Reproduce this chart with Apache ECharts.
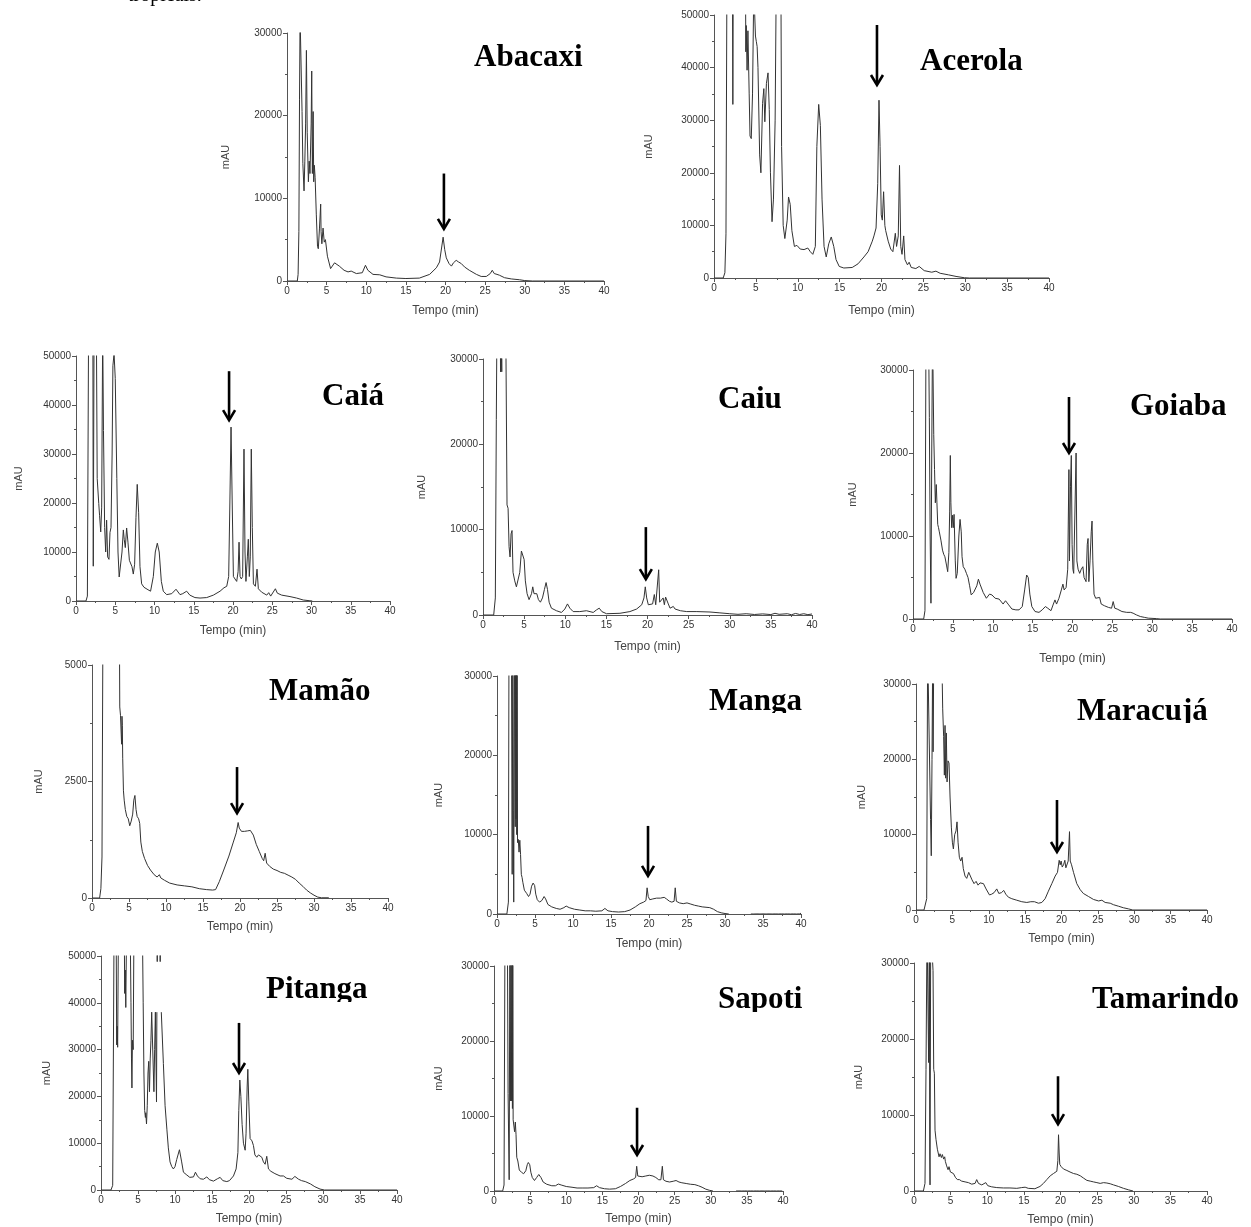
<!DOCTYPE html>
<html>
<head>
<meta charset="utf-8">
<script src="https://cdn.jsdelivr.net/npm/echarts@6/dist/echarts.min.js"></script>
<style>
html,body{margin:0;padding:0;background:#fff;}
#chart{width:1251px;height:1227px;}
</style>
</head>
<body>
<div id="chart"></div>
<script>
// ---------------- DATA ----------------
const fruitNames = ['Abacaxi','Acerola','Caiá','Caiu','Goiaba','Mamão','Manga','Maracujá','Pitanga','Sapoti','Tamarindo'];
const xTickMax = 40, xTickStep = 5;
const yMaxes = [30000,50000,50000,30000,30000,5000,30000,30000,50000,30000,30000];
const ySteps = [10000,10000,10000,10000,10000,2500,10000,10000,10000,10000,10000];
// arrows: time (min), start value, tip value
const arrowTimes = [19.8,19.46,19.5,19.8,19.56,19.6,19.87,19.38,18.65,19.8,19.66];
const arrowFrom  = [13000,48100,46900,10300,26750,2810,11100,14600,35700,11100,15100];
const arrowTo    = [6300,36700,36900,4200,20000,1820,4800,7700,25000,4800,8800];

const abacaxi = [[0,0],[1.3,0],[1.4,800],[1.5,6000],[1.58,22000],[1.65,32000],[1.85,32000],[1.9,20500],[2.0,14200],[2.08,14000],[2.15,10900],[2.25,14500],[2.35,19000],[2.45,27900],[2.55,18000],[2.7,12000],[2.8,14500],[2.9,13000],[3.05,19000],[3.12,25400],[3.2,13000],[3.3,20500],[3.37,12000],[3.45,14000],[3.55,12500],[3.7,8000],[3.85,4200],[3.95,3900],[4.1,6400],[4.25,9300],[4.3,6000],[4.4,4500],[4.55,6400],[4.7,4700],[4.85,5000],[5.1,3000],[5.5,1500],[6.0,2200],[6.6,1800],[7.2,1300],[7.7,1100],[8.1,1200],[8.75,900],[9.5,1000],[9.9,1900],[10.2,1300],[10.85,800],[11.7,750],[12.5,500],[13.8,350],[15.0,300],[16.7,350],[18.0,800],[18.85,1600],[19.25,2300],[19.5,2200],[19.7,5300],[19.9,3800],[20.1,2800],[20.45,2100],[20.75,1800],[21.0,2200],[21.35,2500],[21.65,2300],[22.0,2100],[22.4,1700],[23.0,1300],[23.9,800],[24.5,550],[25.15,550],[25.65,900],[25.9,1300],[26.15,900],[26.5,800],[26.8,700],[27.45,400],[28.3,250],[29.35,150],[30,50],[31,0],[40,0]];

const acerola = [[0,0],[1.1,0],[1.3,1000],[1.43,8400],[1.55,60000],[2.2,60000],[2.25,33000],[2.3,60000],[3.75,60000],[3.8,43000],[3.85,48000],[3.95,39500],[4.05,47000],[4.2,35000],[4.3,27000],[4.45,26500],[4.6,35000],[4.75,55000],[4.85,55000],[4.95,46000],[5.05,45000],[5.15,44000],[5.25,40000],[5.45,23400],[5.6,20000],[5.8,33200],[5.95,36000],[6.07,29700],[6.26,37000],[6.45,39000],[6.6,32000],[6.74,20000],[6.93,10700],[7.1,15000],[7.3,30000],[7.45,60000],[7.98,60000],[8.07,25000],[8.26,10000],[8.46,7500],[8.74,11000],[8.9,15400],[9.1,14000],[9.3,9000],[9.6,6000],[9.9,6200],[10.3,5500],[10.75,5400],[11.2,5700],[11.5,5000],[11.8,4500],[12.1,6000],[12.28,25000],[12.5,33000],[12.7,29000],[12.9,15000],[13.14,6000],[13.4,4000],[13.7,6500],[14.0,7800],[14.3,6000],[14.57,3500],[14.95,2200],[15.5,1900],[16.5,2000],[17.2,2700],[17.9,4000],[18.4,5000],[18.9,7000],[19.1,8000],[19.35,9500],[19.55,18000],[19.7,33800],[19.83,25000],[19.97,12000],[20.1,11000],[20.25,16400],[20.4,10000],[20.5,9000],[20.8,7000],[21.1,5500],[21.36,5000],[21.65,8500],[21.8,6000],[22.0,8000],[22.15,21400],[22.3,6000],[22.45,4500],[22.65,8000],[22.8,3500],[23.1,2500],[23.3,3000],[23.55,2000],[24.1,1800],[24.5,2200],[25.1,1400],[26.0,1100],[26.5,1300],[27.0,900],[28.0,600],[28.9,300],[29.9,50],[30.5,0],[40,0]];

const caia = [[0,0],[1.27,0],[1.45,1000],[1.6,55000],[2.15,55000],[2.2,7100],[2.3,55000],[2.6,55000],[2.7,25000],[2.9,19900],[3.0,17500],[3.15,14100],[3.27,19000],[3.4,55000],[3.5,34800],[3.65,15000],[3.78,10000],[3.9,16500],[4.03,9000],[4.2,8500],[4.33,14000],[4.46,15000],[4.6,30000],[4.7,48000],[4.85,50500],[5.0,45400],[5.2,25000],[5.35,10000],[5.5,4900],[5.7,4500],[5.86,10000],[6.03,14500],[6.15,12500],[6.28,10900],[6.45,14900],[6.62,12000],[6.8,8300],[6.96,8500],[7.13,7000],[7.3,5500],[7.47,7500],[7.64,17000],[7.8,23800],[7.98,18000],[8.15,7000],[8.36,3500],[8.66,2800],[8.9,3000],[9.17,2300],[9.5,2000],[9.85,5000],[10.1,10000],[10.36,11800],[10.6,10000],[10.87,4000],[11.12,2000],[11.55,1300],[12.2,1500],[12.74,2400],[13.25,1300],[13.6,1500],[14.1,2000],[14.5,1200],[15.15,700],[15.8,600],[16.65,700],[17.5,1200],[18.35,2000],[18.85,2700],[19.2,3000],[19.45,5000],[19.6,20000],[19.75,35500],[19.9,20000],[20.05,5000],[20.25,4500],[20.47,4000],[20.65,6000],[20.77,12000],[20.9,5000],[21.06,4500],[21.23,5000],[21.4,31000],[21.53,10000],[21.65,4000],[21.83,9000],[21.95,12600],[22.08,5000],[22.2,9000],[22.33,31000],[22.46,15000],[22.6,3500],[22.85,3000],[23.06,6500],[23.23,2500],[23.65,1800],[24.3,1200],[24.55,1700],[24.8,1000],[25.4,2500],[25.65,1600],[26.2,1200],[27.26,900],[28.1,600],[28.96,200],[29.8,50],[30.1,0]];

const caiu = [[0,0],[1.3,0],[1.5,2000],[1.62,22900],[1.7,35000],[2.1,35000],[2.13,28500],[2.17,35000],[2.25,35000],[2.28,28500],[2.32,35000],[2.76,35000],[2.92,12900],[3.05,12500],[3.17,8000],[3.29,6800],[3.41,9500],[3.53,9900],[3.65,5000],[3.86,4000],[4.06,3300],[4.3,3500],[4.47,5000],[4.67,7500],[4.83,7600],[5.0,6500],[5.15,4000],[5.36,2500],[5.6,1800],[5.9,2500],[6.05,3300],[6.2,2500],[6.37,2600],[6.54,2500],[6.74,1800],[6.98,1500],[7.23,2000],[7.47,3000],[7.67,3800],[7.84,3000],[8.04,1500],[8.32,800],[8.93,500],[9.54,300],[9.95,700],[10.27,1300],[10.56,800],[10.96,400],[11.77,400],[12.58,500],[13.4,300],[13.8,600],[14.13,800],[14.45,400],[15.02,150],[16.65,200],[17.86,400],[18.68,700],[19.3,1200],[19.57,2000],[19.73,3300],[19.9,2000],[20.1,1200],[20.3,1100],[20.62,1300],[20.83,2400],[21.0,1200],[21.2,1300],[21.36,5300],[21.48,1500],[21.72,1400],[21.9,2000],[22.05,1200],[22.2,2100],[22.37,2200],[22.53,1300],[22.74,800],[23.14,1000],[23.35,700],[24.0,500],[24.77,400],[26.0,400],[27.6,350],[28.8,250],[30.0,150],[31.0,80],[32.0,150],[33.0,60],[34.0,130],[35.0,50],[35.5,200],[36.0,80],[37.0,150],[37.5,30],[38.0,180],[38.5,60],[39.0,150],[39.5,40],[40,120]];

const goiaba = [[0,0],[1.34,0],[1.5,1000],[1.63,35000],[1.95,35000],[2.05,24300],[2.15,10000],[2.25,1900],[2.35,20000],[2.45,35000],[2.55,35000],[2.6,22200],[2.7,18000],[2.8,14000],[2.92,16200],[3.0,14000],[3.1,11400],[3.2,11000],[3.3,10500],[3.5,9500],[3.7,8300],[3.85,7800],[4.0,7500],[4.2,6500],[4.35,5700],[4.5,8000],[4.6,13000],[4.68,19700],[4.75,14000],[4.85,11000],[4.95,12500],[5.05,11000],[5.15,12600],[5.3,7000],[5.4,4900],[5.55,5500],[5.75,10000],[5.9,12000],[6.05,10500],[6.15,7500],[6.3,6300],[6.5,6000],[6.7,5500],[6.9,5000],[7.1,4000],[7.3,2900],[7.6,3200],[8.0,4000],[8.2,4800],[8.4,4200],[8.8,3200],[9.2,2500],[9.6,3000],[9.9,2900],[10.3,2500],[10.8,2400],[11.3,1800],[11.6,2200],[11.8,2300],[12.0,1700],[12.4,1200],[12.9,1100],[13.3,1100],[13.7,1500],[14.0,3500],[14.25,5300],[14.45,5000],[14.65,3000],[14.9,1500],[15.3,900],[15.8,800],[16.2,1100],[16.6,1500],[16.9,1300],[17.3,1000],[17.6,1800],[17.8,2300],[18.0,1800],[18.3,2500],[18.6,3500],[18.8,4200],[18.95,3500],[19.2,3800],[19.4,6000],[19.55,18000],[19.62,7000],[19.75,16000],[19.85,19700],[19.95,9000],[20.05,6000],[20.15,5500],[20.3,5500],[20.45,20000],[20.55,7000],[20.7,6000],[20.9,5500],[21.1,6000],[21.3,6300],[21.45,5000],[21.7,4500],[21.85,9000],[21.95,9700],[22.05,4500],[22.2,7000],[22.35,10500],[22.45,11800],[22.55,7000],[22.7,3000],[22.9,2500],[23.1,2300],[23.4,2600],[23.6,1800],[24.0,1600],[24.5,1400],[24.9,1300],[25.1,2100],[25.3,1300],[25.6,1200],[25.8,1300],[26.2,900],[26.8,800],[27.3,800],[27.6,700],[28.0,500],[28.5,300],[29.0,200],[29.5,100],[30.5,50],[31,0],[40,0]];

const mamao = [[0,0],[1.03,0],[1.2,200],[1.35,880],[1.48,6000],[3.7,6000],[3.75,4100],[3.85,3920],[3.95,3500],[4.0,3300],[4.05,3900],[4.1,3700],[4.15,3000],[4.25,2300],[4.35,2100],[4.5,1900],[4.7,1750],[4.9,1700],[5.1,1550],[5.3,1650],[5.5,1800],[5.65,2100],[5.8,2200],[5.95,1900],[6.1,1750],[6.3,1700],[6.45,1600],[6.6,1200],[6.8,1000],[7.1,850],[7.5,700],[7.9,600],[8.4,500],[8.8,450],[9.1,500],[9.3,430],[9.8,380],[10.5,320],[11.5,280],[12.5,260],[13.5,240],[14.5,200],[15.5,180],[16.3,170],[16.7,180],[17.2,350],[17.8,600],[18.5,900],[19.1,1200],[19.5,1400],[19.75,1620],[19.9,1500],[20.2,1430],[20.6,1430],[21.0,1440],[21.4,1450],[21.8,1350],[22.2,1150],[22.6,1000],[23.0,850],[23.2,800],[23.4,960],[23.6,750],[24.0,680],[24.5,620],[25.0,590],[25.5,550],[26.0,530],[26.5,490],[27.0,450],[27.5,400],[28.0,320],[28.5,250],[29.0,170],[29.5,110],[30.0,60],[30.5,20],[31,5],[32,5]];

const manga = [[0,0],[1.3,0],[1.5,1500],[1.58,35000],[1.9,35000],[2.0,5000],[2.08,35000],[2.15,13000],[2.2,1500],[2.3,35000],[2.4,11000],[2.45,35000],[2.5,12000],[2.55,35000],[2.6,10000],[2.65,35000],[2.7,9000],[2.8,9400],[2.9,7800],[3.0,9300],[3.1,7500],[3.2,5000],[3.3,4600],[3.4,4000],[3.6,3000],[3.9,2600],[4.15,2200],[4.35,2500],[4.55,3500],[4.75,3900],[4.95,3600],[5.1,2500],[5.3,1800],[5.6,1500],[5.9,1700],[6.2,2200],[6.4,1900],[6.7,1200],[7.2,900],[7.8,700],[8.3,600],[8.8,800],[9.1,1000],[9.5,800],[10.2,600],[10.9,500],[11.6,400],[12.3,400],[13.0,350],[13.8,400],[14.2,700],[14.6,400],[15.2,300],[16.0,250],[16.8,300],[17.5,500],[18.2,900],[18.8,1300],[19.3,1500],[19.6,1700],[19.75,3300],[19.9,2200],[20.1,1800],[20.5,1900],[21.0,2000],[21.5,2000],[22.0,2100],[22.3,1900],[22.7,1600],[23.0,1500],[23.3,1600],[23.45,3300],[23.6,1600],[24.0,1400],[24.5,1300],[25.0,1400],[25.5,1250],[26.0,1100],[26.5,1000],[27.0,900],[27.5,850],[28.0,800],[28.5,600],[29.0,300],[29.5,150],[30.0,60],[30.5,0],[30.6,'-'],[33.4,0],[33.6,110],[33.8,0],[34.0,120],[34.2,10],[34.4,110],[34.6,0],[34.8,130],[35.0,10],[35.2,120],[35.4,0],[35.6,110],[35.8,10],[36.0,130],[36.2,0],[36.4,120],[36.6,10],[36.8,110],[37.0,0],[37.2,130],[37.4,10],[37.6,120],[37.8,0],[38.0,110],[38.2,10],[38.4,130],[38.6,0],[38.8,120],[39.0,10],[39.2,110],[39.4,0],[39.6,130],[39.8,10],[40,100]];

const maracuja = [[0,0],[1.1,0],[1.47,1500],[1.6,35000],[1.85,35000],[2.0,12000],[2.1,7200],[2.2,20000],[2.3,35000],[2.35,21000],[2.45,35000],[3.53,35000],[3.67,26700],[3.8,23000],[3.9,17900],[3.99,24500],[4.08,17500],[4.17,23500],[4.27,17000],[4.4,19800],[4.54,19500],[4.68,15000],[4.86,11000],[5.0,9000],[5.14,8100],[5.32,10000],[5.5,10500],[5.64,11700],[5.78,9000],[5.96,7000],[6.15,6500],[6.33,7000],[6.5,5500],[6.74,4500],[6.97,4200],[7.25,5000],[7.43,5100],[7.7,4000],[7.98,3500],[8.26,3800],[8.53,3300],[8.8,3600],[9.04,3850],[9.27,3500],[9.63,2800],[10.1,2000],[10.4,2100],[10.73,2300],[11.1,2800],[11.38,2200],[11.74,2300],[12.06,2600],[12.34,2100],[12.7,1700],[13.17,1500],[13.85,1300],[14.54,1100],[15.23,1000],[15.78,1100],[16.0,1300],[16.28,1100],[16.83,900],[17.3,1000],[17.75,1500],[18.2,2500],[18.67,3500],[19.13,4500],[19.45,5000],[19.68,6600],[19.82,6000],[19.95,6500],[20.1,5700],[20.28,6000],[20.46,6600],[20.6,5600],[20.73,5400],[20.92,6500],[21.1,10400],[21.2,6500],[21.38,6000],[21.65,5000],[22.1,3500],[22.57,2700],[23.0,2200],[23.7,1800],[24.4,1400],[25.1,1200],[25.55,1300],[26.0,1000],[26.7,900],[27.15,700],[27.84,500],[28.5,300],[29.2,150],[29.8,0],[40,0]];

const pitanga = [[0,0],[1.35,0],[1.58,1000],[1.76,55000],[2.05,55000],[2.12,31000],[2.18,35000],[2.25,30500],[2.35,55000],[3.15,55000],[3.2,42000],[3.28,47000],[3.35,39000],[3.45,55000],[3.95,55000],[4.05,40000],[4.12,28000],[4.18,21800],[4.25,32000],[4.35,30000],[4.45,55000],[5.6,55000],[5.7,40000],[5.8,25000],[5.9,17000],[6.0,15500],[6.05,16500],[6.15,14100],[6.25,18000],[6.35,25000],[6.45,27500],[6.55,21000],[6.65,28000],[6.75,32000],[6.85,38000],[7.05,38000],[7.15,21000],[7.25,30000],[7.35,38000],[7.45,38000],[7.5,18800],[7.55,38000],[7.56,'-'],[7.58,52000],[7.6,48800],[7.62,52000],[7.63,'-'],[7.98,52000],[8.0,48800],[8.02,52000],[8.03,'-'],[8.15,38000],[8.2,38000],[8.43,27000],[8.66,18000],[8.9,13000],[9.1,9000],[9.33,6000],[9.56,5000],[9.78,4500],[10.0,5000],[10.23,6500],[10.6,8600],[10.9,6000],[11.14,3800],[11.6,3200],[12.0,2700],[12.5,2800],[12.76,3800],[13.03,3000],[13.4,2400],[13.84,2300],[14.3,2800],[14.65,2200],[15.2,1900],[15.73,2400],[16.1,2700],[16.46,2000],[17.0,1800],[17.36,2000],[17.9,3000],[18.26,4500],[18.5,8000],[18.62,17000],[18.76,23500],[18.9,20000],[19.07,14000],[19.25,10000],[19.48,8500],[19.6,12000],[19.75,22000],[19.84,25800],[19.97,19000],[20.15,11000],[20.4,10500],[20.6,9500],[20.8,7500],[21.05,7000],[21.28,7500],[21.5,7200],[21.73,7000],[21.95,6000],[22.18,5500],[22.4,7200],[22.63,4500],[22.95,4000],[23.5,3500],[24.2,3000],[24.66,3000],[25.1,2500],[25.8,2300],[26.2,2900],[26.7,2300],[27.1,2000],[27.6,1800],[28.3,1300],[28.9,700],[29.6,200],[30.2,0],[40,0]];

const sapoti = [[0,0],[1.2,0],[1.39,800],[1.52,35000],[1.85,35000],[1.95,13000],[2.1,1500],[2.2,35000],[2.3,12000],[2.35,35000],[2.45,12000],[2.5,35000],[2.55,11000],[2.6,35000],[2.65,9500],[2.75,9300],[2.85,7900],[2.95,9200],[3.05,7500],[3.15,4500],[3.3,4000],[3.5,2800],[3.8,2500],[4.1,2300],[4.4,2700],[4.6,3500],[4.75,3800],[4.95,3500],[5.1,2500],[5.3,1800],[5.6,1400],[5.9,1800],[6.2,2200],[6.5,1800],[6.8,1200],[7.3,900],[8.0,700],[8.5,700],[8.9,930],[9.3,800],[10.0,600],[10.8,500],[11.5,400],[12.3,400],[13.0,400],[13.8,450],[14.2,700],[14.6,450],[15.3,300],[16.0,250],[16.8,300],[17.5,600],[18.2,1000],[18.8,1400],[19.3,1600],[19.6,1800],[19.75,3300],[19.9,2000],[20.1,1800],[20.5,1900],[21.0,2000],[21.5,2100],[22.0,2000],[22.4,1800],[22.8,1500],[23.1,1500],[23.3,3300],[23.45,1500],[23.8,1300],[24.3,1200],[24.8,1300],[25.2,1400],[25.6,1200],[26.0,1100],[26.6,1000],[27.2,900],[27.8,850],[28.3,700],[28.8,500],[29.3,250],[29.8,100],[30.3,0],[30.4,'-'],[33.5,0],[33.7,120],[33.9,10],[34.1,130],[34.3,0],[34.5,110],[34.7,10],[34.9,130],[35.1,0],[35.3,120],[35.5,10],[35.7,110],[35.9,0],[36.1,130],[36.3,10],[36.5,120],[36.7,0],[36.9,110],[37.1,10],[37.3,130],[37.5,0],[37.7,120],[37.9,10],[38.1,110],[38.3,0],[38.5,130],[38.7,10],[38.9,120],[39.1,0],[39.3,110],[39.5,10],[39.7,130],[39.9,0]];

const tamarindo = [[0,0],[1.28,0],[1.5,1000],[1.64,16000],[1.78,35000],[1.95,35000],[2.0,16900],[2.1,35000],[2.15,5000],[2.19,800],[2.28,35000],[2.46,35000],[2.6,29000],[2.69,16000],[2.78,15500],[2.87,8000],[3.0,6800],[3.19,5500],[3.42,4500],[3.55,4900],[3.74,4400],[3.87,4800],[4.05,4200],[4.19,4500],[4.28,3900],[4.46,3300],[4.65,2800],[4.78,3200],[4.97,2500],[5.2,2600],[5.38,2300],[5.65,1800],[5.92,1500],[6.2,1500],[6.5,1300],[6.97,1200],[7.43,1100],[7.88,900],[8.34,1000],[8.56,1500],[8.8,1000],[9.25,800],[9.5,700],[9.8,1100],[10.07,700],[10.6,550],[11.3,450],[12.2,400],[13.1,400],[14.03,350],[14.7,450],[15.17,500],[15.6,350],[16.5,300],[17.2,600],[17.67,1000],[18.13,1500],[18.6,2000],[19.04,2300],[19.27,2500],[19.5,2600],[19.64,4000],[19.73,7400],[19.82,5000],[19.9,3500],[20.1,3200],[20.4,2900],[20.87,2700],[21.3,2500],[21.78,2300],[22.0,2400],[22.23,2200],[22.4,2300],[22.7,2000],[23.14,1700],[23.6,1400],[24.05,1300],[24.5,1200],[24.97,1100],[25.42,1000],[25.88,1100],[26.33,1050],[26.79,950],[27.24,800],[27.9,600],[28.6,350],[29.3,150],[29.9,0]];

const traces = [abacaxi, acerola, caia, caiu, goiaba, mamao, manga, maracuja, pitanga, sapoti, tamarindo];

// ---------------- LAYOUT ----------------
const gridRects = [
  [287,33,317,248],[714,15,335,263],
  [76,356,314,245],[483,359,329,256],[913,370,319,249],
  [92,665,296,233],[497,676,304,238],[916,684,291,226],
  [101,956,296,234],[494,966,289,225],[914,963,293,229]
];
const yNameGaps = [56,60,52,56,55,48,53,49,49,50,50];
const xNameGaps = [24,27,24,26,34,23,24,23,23,22,23];
const titlePos = [[474,58],[920,62],[322,397],[718,400],[1130,407],[269,692],[709,702],[1077,712],[266,990],[718,1000],[1092,1000]];
const titleCut = [null,null,null,null,null,null,713,723,1002,1012,null];

const sansFont = '"Liberation Sans", Arial, sans-serif';
const serifFont = '"Liberation Serif", "Times New Roman", serif';
const axisColor = '#555';
const labelColor = '#333';
const plainNumber = v => String(v);

const grids = [], xAxes = [], yAxes = [], series = [];
traces.forEach((tr, i) => {
  const r = gridRects[i];
  grids.push({left:r[0], top:r[1], width:r[2], height:r[3], containLabel:false});
  xAxes.push({
    type:'value', gridIndex:i, min:0, max:xTickMax, interval:xTickStep,
    name:'Tempo (min)', nameLocation:'middle', nameGap:xNameGaps[i],
    nameTextStyle:{fontFamily:sansFont, fontSize:12, color:'#444'},
    axisLine:{show:true, onZero:false, lineStyle:{color:axisColor, width:1}},
    axisTick:{show:true, length:4, lineStyle:{color:axisColor}},
    minorTick:{show:true, splitNumber:2, length:2, lineStyle:{color:axisColor}},
    axisLabel:{fontFamily:sansFont, fontSize:10, color:labelColor, margin:5, formatter:plainNumber},
    splitLine:{show:false}
  });
  yAxes.push({
    type:'value', gridIndex:i, min:0, max:yMaxes[i], interval:ySteps[i],
    name:'mAU', nameLocation:'middle', nameGap:yNameGaps[i],
    nameTextStyle:{fontFamily:sansFont, fontSize:11, color:'#444'},
    axisLine:{show:true, onZero:false, lineStyle:{color:axisColor, width:1}},
    axisTick:{show:true, length:4, lineStyle:{color:axisColor}},
    minorTick:{show:true, splitNumber:2, length:2, lineStyle:{color:axisColor}},
    axisLabel:{fontFamily:sansFont, fontSize:10, color:labelColor, margin:5, formatter:plainNumber},
    splitLine:{show:false}
  });
  series.push({
    name:fruitNames[i], type:'line', xAxisIndex:i, yAxisIndex:i,
    data:tr, showSymbol:false, symbol:'none', clip:true, connectNulls:false,
    lineStyle:{color:'#333', width:1}, silent:true
  });
});

const chart = echarts.init(document.getElementById('chart'), null, {renderer:'canvas'});
chart.setOption({
  backgroundColor:'#fff',
  animation:false,
  grid:grids, xAxis:xAxes, yAxis:yAxes, series:series
});

// annotations: titles, cut-off masks, arrows
const graphics = [];
graphics.push({
  type:'text', x:128, y:-4, z:50,
  style:{text:'tropicais.', font:'20px ' + serifFont, fill:'#000', textAlign:'left', textVerticalAlign:'middle'}
});
fruitNames.forEach((nm, i) => {
  graphics.push({
    type:'text', x:titlePos[i][0], y:titlePos[i][1], z:50,
    style:{text:nm, font:'bold 31px ' + serifFont, fill:'#000', textAlign:'left', textVerticalAlign:'middle'}
  });
  if (titleCut[i] !== null) {
    graphics.push({
      type:'rect', z:60, shape:{x:titlePos[i][0]-4, y:titleCut[i], width:140, height:11},
      style:{fill:'#fff'}
    });
  }
  const p1 = chart.convertToPixel({gridIndex:i}, [arrowTimes[i], arrowFrom[i]]);
  const p2 = chart.convertToPixel({gridIndex:i}, [arrowTimes[i], arrowTo[i]]);
  graphics.push({
    type:'line', z:70, shape:{x1:p1[0], y1:p1[1], x2:p2[0], y2:p2[1]-2},
    style:{stroke:'#000', lineWidth:2.6}
  });
  graphics.push({
    type:'polyline', z:70, shape:{points:[[p2[0]-6, p2[1]-10],[p2[0], p2[1]],[p2[0]+6, p2[1]-10]]},
    style:{stroke:'#000', lineWidth:2.6, fill:null, lineJoin:'miter'}
  });
});
chart.setOption({graphic:graphics});
</script>
</body>
</html>
